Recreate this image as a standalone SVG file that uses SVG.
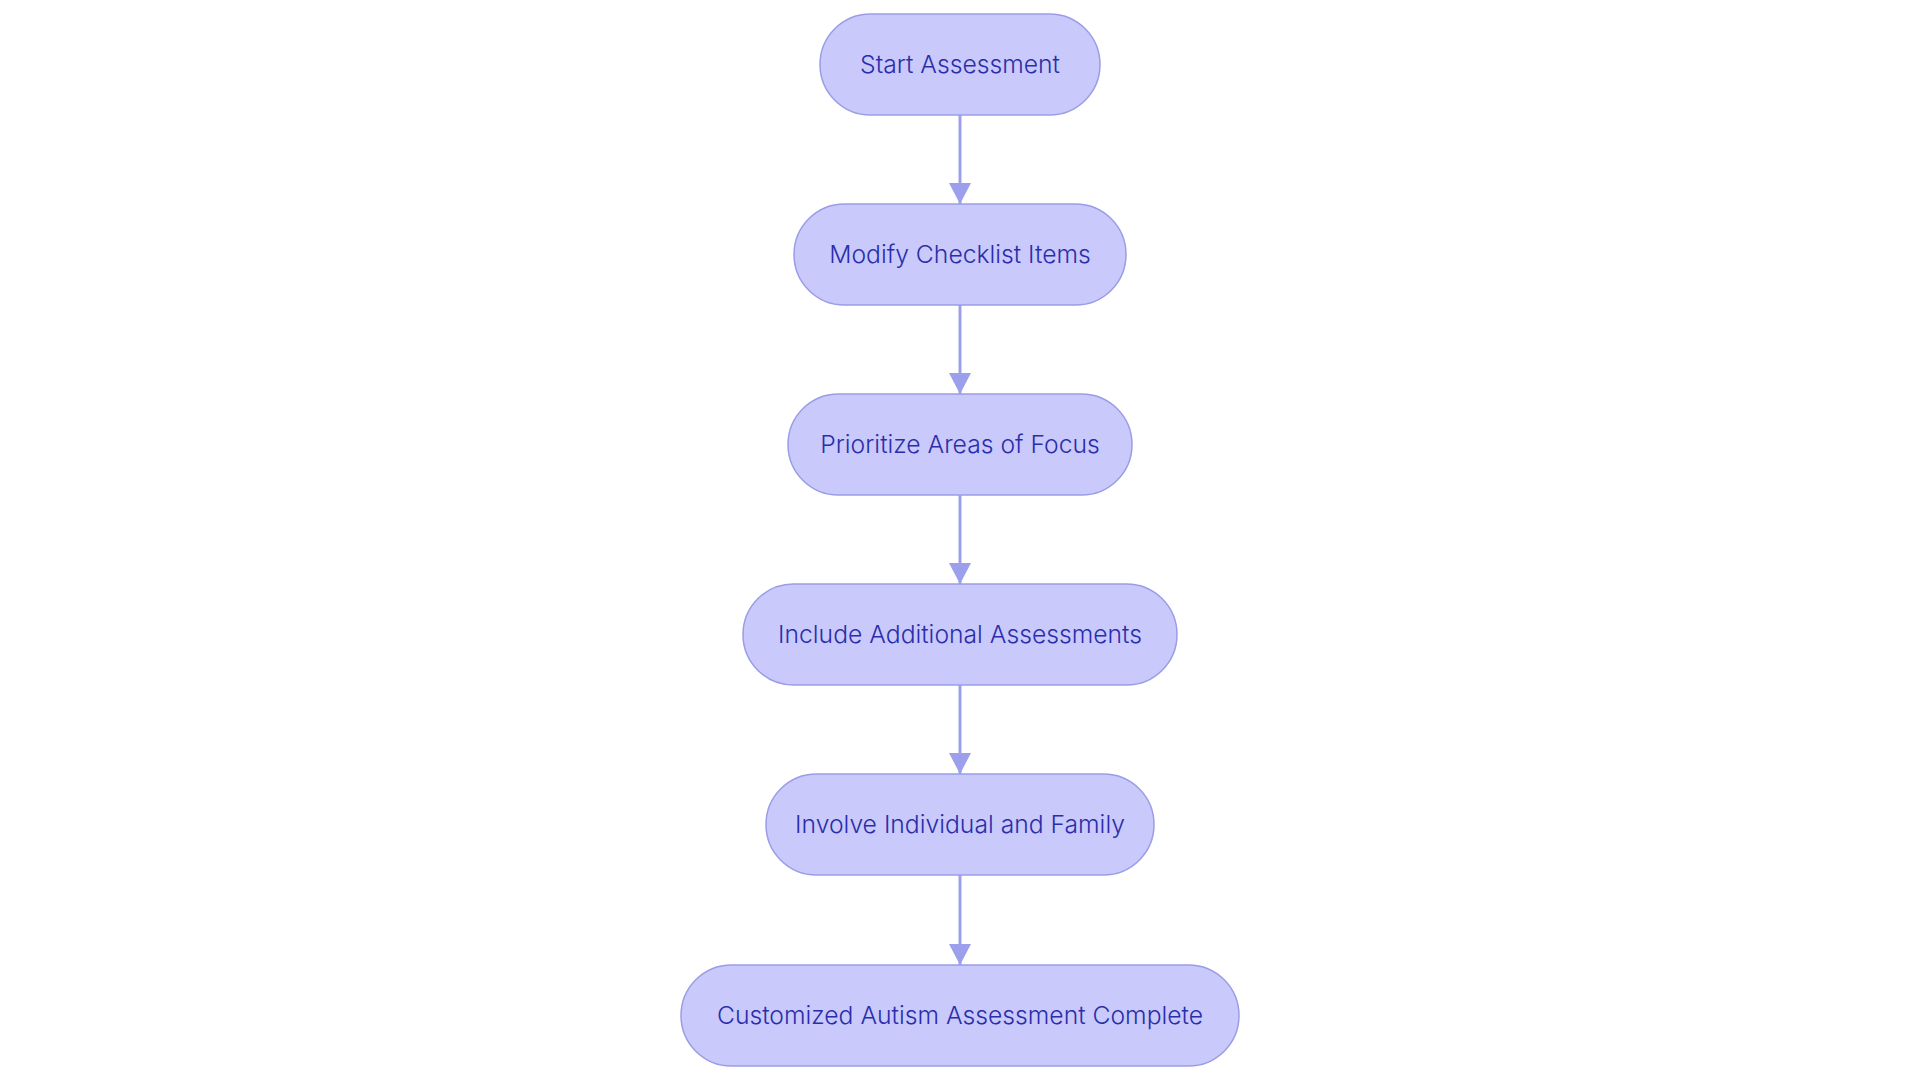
<svg xmlns="http://www.w3.org/2000/svg" width="1920" height="1080" viewBox="0 0 1920 1080">
<defs>
<style>
.node rect{fill:#c9c9fc;stroke:#9a9de6;stroke-width:1.5}
.node text{font-family:Inter,"Noto Sans","Liberation Sans",sans-serif;font-size:24.7px;font-weight:300;fill:#2a2eab;text-anchor:middle}
.edge{stroke:#9ca0ec;stroke-width:3;fill:none}
</style>
<marker id="arr" markerUnits="userSpaceOnUse" markerWidth="22" markerHeight="22" refX="21" refY="11" orient="auto" viewBox="0 0 22 22">
<path d="M0,0 L21,11 L0,22 Z" fill="#9ca0ec"/>
</marker>
</defs>
<rect width="1920" height="1080" fill="#ffffff"/>
<g id="connectors">
<line class="edge" x1="960" y1="115" x2="960" y2="204" marker-end="url(#arr)"/>
<line class="edge" x1="960" y1="305" x2="960" y2="394" marker-end="url(#arr)"/>
<line class="edge" x1="960" y1="495" x2="960" y2="584" marker-end="url(#arr)"/>
<line class="edge" x1="960" y1="685" x2="960" y2="774" marker-end="url(#arr)"/>
<line class="edge" x1="960" y1="875" x2="960" y2="965" marker-end="url(#arr)"/>
</g>
<g id="n1" class="node"><rect x="820" y="14" width="280" height="101" rx="50.5"/><text x="960" y="73">Start Assessment</text></g>
<g id="n2" class="node"><rect x="794" y="204" width="332" height="101" rx="50.5"/><text x="960" y="263">Modify Checklist Items</text></g>
<g id="n3" class="node"><rect x="788" y="394" width="344" height="101" rx="50.5"/><text x="960" y="453">Prioritize Areas of Focus</text></g>
<g id="n4" class="node"><rect x="743" y="584" width="434" height="101" rx="50.5"/><text x="960" y="643">Include Additional Assessments</text></g>
<g id="n5" class="node"><rect x="766" y="774" width="388" height="101" rx="50.5"/><text x="960" y="833">Involve Individual and Family</text></g>
<g id="n6" class="node"><rect x="681" y="965" width="558" height="101" rx="50.5"/><text x="960" y="1024">Customized Autism Assessment Complete</text></g>
</svg>
